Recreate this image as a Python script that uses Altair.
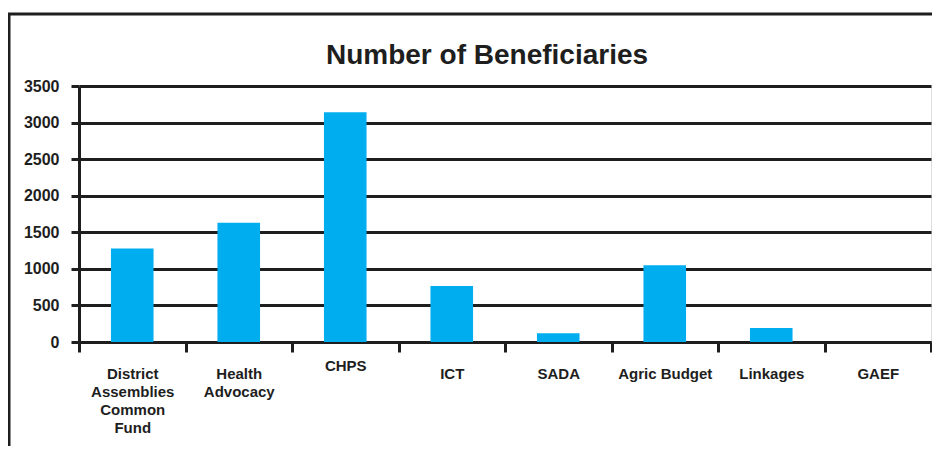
import altair as alt
import pandas as pd

categories = ["District Assemblies Common Fund", "Health Advocacy", "CHPS", "ICT",
              "SADA", "Agric Budget", "Linkages", "GAEF"]
values = [1280, 1630, 3140, 765, 120, 1050, 190, 0]
y_ticks = [0, 500, 1000, 1500, 2000, 2500, 3000, 3500]

df = pd.DataFrame({"category": categories, "value": values})

FONT = "Liberation Sans"
INK = "#1e1e1e"

bars = alt.Chart(df).mark_bar(color="#00AEEF", width={"band": 0.4}).encode(
    x=alt.X("category:N", sort=categories, title=None,
            scale=alt.Scale(paddingInner=0, paddingOuter=0),
            axis=alt.Axis(
                tickBand="extent", tickSize=10, tickWidth=3, tickColor=INK,
                domainColor=INK, domainWidth=3, labelAngle=0,
                labelFont=FONT, labelFontWeight="bold", labelFontSize=15,
                labelColor=INK, labelLineHeight=18,
                labelPadding={"condition": {"test": "datum.value === 'CHPS'", "value": 6}, "value": 14},
                labelExpr="isValid(datum.value) ? (datum.value == 'Agric Budget' ? datum.value : split(datum.value, ' ')) : ''",
                grid=False)),
    y=alt.Y("value:Q", title=None,
            scale=alt.Scale(domain=[0, 3500], nice=False),
            axis=alt.Axis(values=y_ticks, format="d", grid=True, gridColor=INK, gridWidth=3,
                          domainColor=INK, domainWidth=3, tickSize=8, tickWidth=3,
                          tickColor=INK, labelFont=FONT, labelFontWeight="bold",
                          labelFontSize=16, labelColor=INK, labelPadding=12)),
)

frame = alt.Chart(pd.DataFrame({"a": [0]})).mark_rect(
    fill=None, stroke=INK, strokeWidth=3
).encode(
    x=alt.value(-70), x2=alt.value(880), y=alt.value(-72), y2=alt.value(400)
)

chart = alt.layer(frame, bars).properties(
    width=852, height=256,
    title=alt.TitleParams("Number of Beneficiaries", font=FONT, fontWeight="bold",
                          fontSize=28, color=INK, anchor="middle", frame="group",
                          dx=-18, dy=75, offset=18),
    padding={"left": 71, "top": 78, "right": 1, "bottom": 104},
    autosize=alt.AutoSizeParams(type="none"),
).configure_view(stroke=None).configure(background="white")

chart.save("out.html", embed_options={"renderer": "svg", "actions": False})
